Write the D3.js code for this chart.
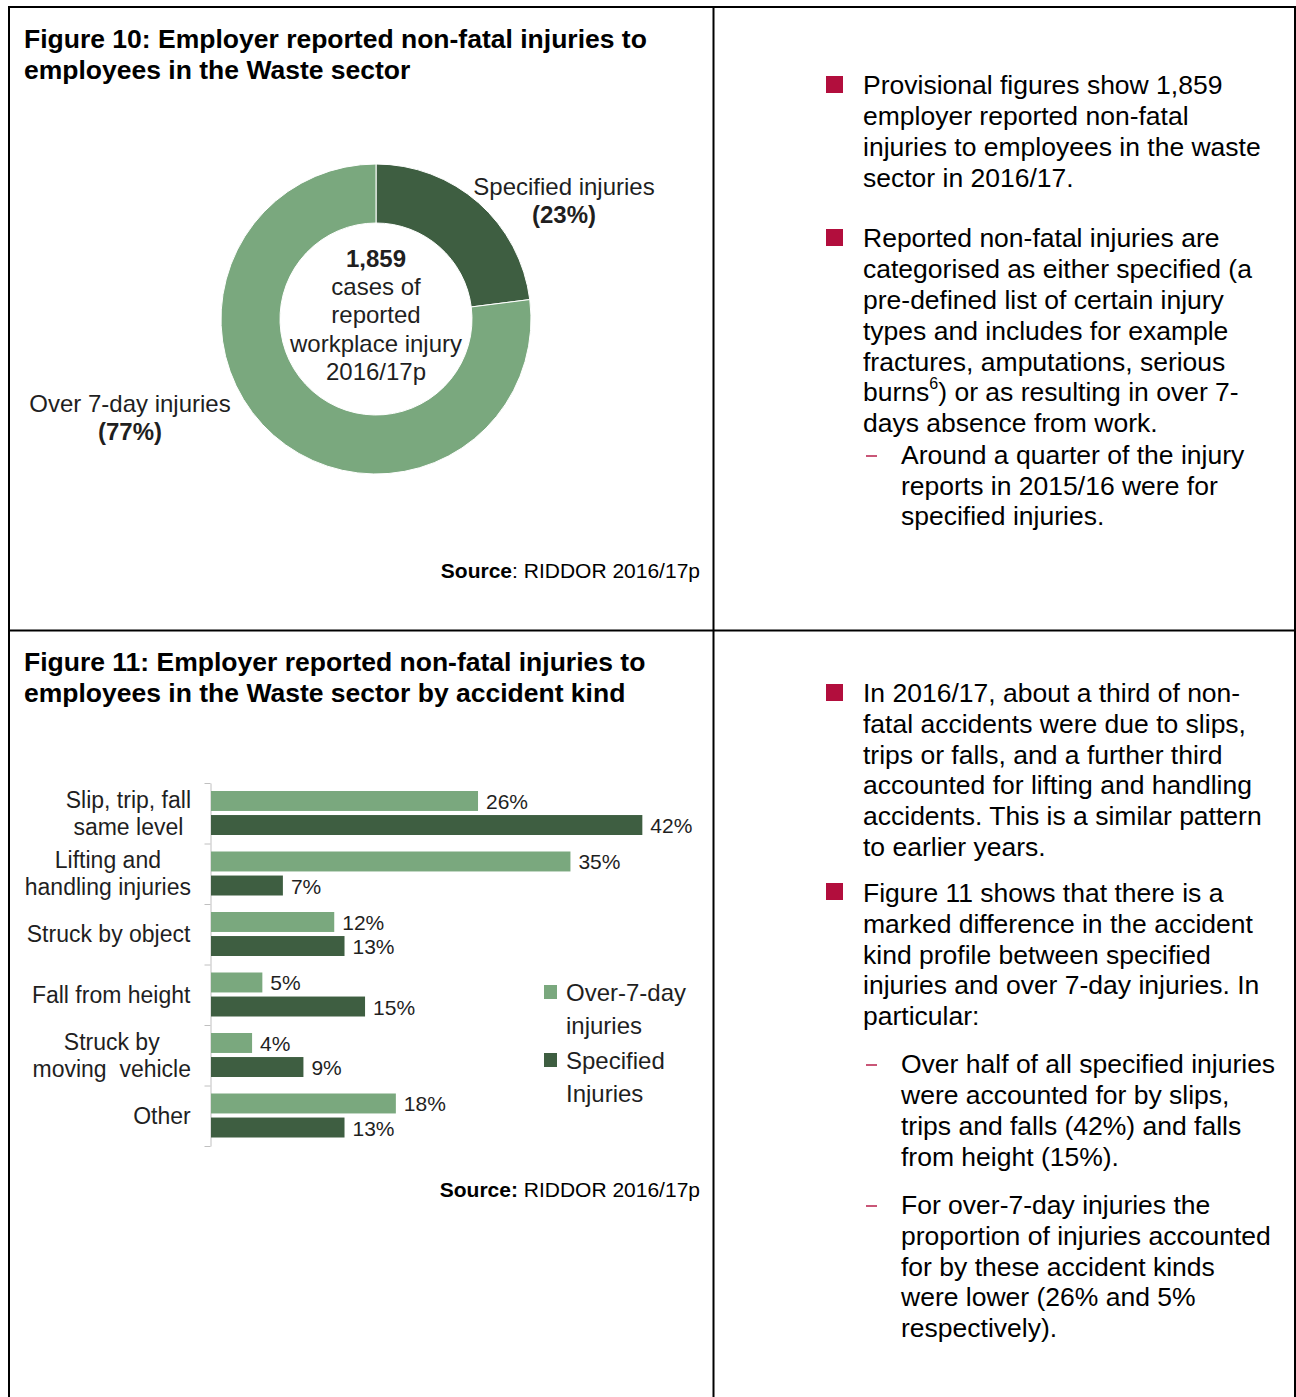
<!DOCTYPE html>
<html lang="en">
<head>
  <meta charset="UTF-8">
  <title>Waste sector non-fatal injuries</title>
  <script src="https://d3js.org/d3.v7.min.js"></script>
  <style>
    body {
      margin: 0;
      background-color: #ffffff;
    }
    svg {
      display: block;
      font-family: "Liberation Sans", Arial, sans-serif;
    }
    .body-text { font-size: 26.5px; fill: #000; }
    .title { font-size: 26.5px; font-weight: bold; fill: #000; }
    .chart-text { fill: #1f1f1f; white-space: pre; }
  </style>
</head>
<body>
  <div id="page"></div>

  <script>
    // Figure 10 data
    const donutLabels = ["Specified injuries", "Over 7-day injuries"];
    const donutValues = [23, 77];
    const totalCases = "1,859";
    const centreLines = ["cases of", "reported", "workplace injury", "2016/17p"];

    // Figure 11 data
    const categories = [
      ["Slip, trip, fall", "same level"],
      ["Lifting and", "handling injuries"],
      ["Struck by object"],
      ["Fall from height"],
      ["Struck by", "moving  vehicle"],
      ["Other"]
    ];
    const seriesNames = ["Over-7-day injuries", "Specified Injuries"];
    const over7Values = [26, 35, 12, 5, 4, 18];
    const specifiedValues = [42, 7, 13, 15, 9, 13];

    const lightGreen = "#7aa87e";
    const darkGreen = "#3e5e41";
    const bulletRed = "#b20e3d";

    // text of the right hand column, one entry per printed line
    const para1 = ["Provisional figures show 1,859", "employer reported non-fatal",
      "injuries to employees in the waste", "sector in 2016/17."];
    const para2 = ["Reported non-fatal injuries are", "categorised as either specified (a",
      "pre-defined list of certain injury", "types and includes for example",
      "fractures, amputations, serious", "burns", "days absence from work."];
    const para2sub = ["Around a quarter of the injury", "reports in 2015/16 were for", "specified injuries."];
    const para3 = ["In 2016/17, about a third of non-", "fatal accidents were due to slips,",
      "trips or falls, and a further third", "accounted for lifting and handling",
      "accidents. This is a similar pattern", "to earlier years."];
    const para4 = ["Figure 11 shows that there is a", "marked difference in the accident",
      "kind profile between specified", "injuries and over 7-day injuries. In", "particular:"];
    const para4subA = ["Over half of all specified injuries", "were accounted for by slips,",
      "trips and falls (42%) and falls", "from height (15%)."];
    const para4subB = ["For over-7-day injuries the", "proportion of injuries accounted",
      "for by these accident kinds", "were lower (26% and 5%", "respectively)."];

    const W = 1296, H = 1397;
    const svg = d3.select("#page").append("svg")
      .attr("width", W).attr("height", H);

    // ---------- table frame ----------
    const frame = svg.append("g").attr("stroke", "#000").attr("stroke-width", 2);
    frame.append("line").attr("x1", 9).attr("x2", 9).attr("y1", 6).attr("y2", H);
    frame.append("line").attr("x1", 713.5).attr("x2", 713.5).attr("y1", 6).attr("y2", H);
    frame.append("line").attr("x1", 1295).attr("x2", 1295).attr("y1", 6).attr("y2", H);
    frame.append("line").attr("x1", 8).attr("x2", 1296).attr("y1", 7).attr("y2", 7);
    frame.append("line").attr("x1", 8).attr("x2", 1296).attr("y1", 630.5).attr("y2", 630.5);

    // ---------- titles ----------
    function title(lines, y0) {
      const t = svg.append("text").attr("class", "title").attr("x", 24).attr("y", y0);
      lines.forEach((l, i) => t.append("tspan").attr("x", 24).attr("dy", i ? 31 : 0).text(l));
    }
    title(["Figure 10: Employer reported non-fatal injuries to", "employees in the Waste sector"], 48);
    title(["Figure 11: Employer reported non-fatal injuries to", "employees in the Waste sector by accident kind"], 671);

    function source(y, boldColon) {
      const t = svg.append("text").attr("x", 700).attr("y", y)
        .attr("text-anchor", "end").style("font-size", "21px");
      t.append("tspan").style("font-weight", "bold").text(boldColon ? "Source:" : "Source");
      t.append("tspan").text((boldColon ? "" : ":") + " RIDDOR 2016/17p");
    }
    source(578, false);
    source(1197, true);

    // ---------- Figure 10 donut ----------
    const cx = 376, cy = 319;
    const pie = d3.pie().sort(null).value(d => d);
    const arc = d3.arc().innerRadius(96).outerRadius(155);
    const donut = svg.append("g").attr("transform", `translate(${cx},${cy})`);
    donut.selectAll("path")
      .data(pie(donutValues))
      .enter().append("path")
      .attr("d", arc)
      .attr("fill", (d, i) => i === 0 ? darkGreen : lightGreen)
      .attr("stroke", "#ffffff")
      .attr("stroke-width", 1);

    const centre = donut.append("text").attr("class", "chart-text")
      .attr("text-anchor", "middle").style("font-size", "24px");
    centre.append("tspan").attr("x", 0).attr("y", -52).style("font-weight", "bold").text(totalCases);
    centre.selectAll("tspan.l").data(centreLines).enter().append("tspan")
      .attr("class", "l").attr("x", 0).attr("y", (d, i) => -24 + i * 28.3).text(d => d);

    const donutLabelPos = [[188, -124], [-246, 93]];
    donutLabels.forEach((lab, i) => {
      const t = donut.append("text").attr("class", "chart-text")
        .attr("text-anchor", "middle").style("font-size", "24px")
        .attr("transform", `translate(${donutLabelPos[i][0]},${donutLabelPos[i][1]})`);
      t.append("tspan").attr("x", 0).attr("y", 0).text(lab);
      t.append("tspan").attr("x", 0).attr("y", 28).style("font-weight", "bold")
        .text(`(${donutValues[i]}%)`);
    });

    // ---------- Figure 11 bars ----------
    const plotTop = 783, plotBottom = 1146;
    const y = d3.scaleBand().domain(d3.range(categories.length)).range([plotTop, plotBottom]);
    const ySub = d3.scaleBand().domain([0, 1]).range([8, 52]).paddingInner(0.17);
    const x = d3.scaleLinear().domain([0, 50]).range([211, 724.5]);

    const edge = d3.scaleLinear().domain([0, categories.length]).range([plotTop, plotBottom]);
    const axis = svg.append("g").attr("transform", "translate(210.5,0)")
      .call(d3.axisLeft(edge).tickValues(d3.range(categories.length + 1))
        .tickFormat("").tickSize(6).tickSizeOuter(0));
    axis.selectAll("path, line").attr("stroke", "#c0c0c0");

    const rows = categories.map((c, i) => [
      { cat: i, s: 0, v: over7Values[i] },
      { cat: i, s: 1, v: specifiedValues[i] }
    ]).flat();

    const bars = svg.append("g");
    bars.selectAll("rect").data(rows).enter().append("rect")
      .attr("x", x(0))
      .attr("y", d => y(d.cat) + ySub(d.s))
      .attr("width", d => x(d.v) - x(0))
      .attr("height", ySub.bandwidth())
      .attr("fill", d => d.s === 0 ? lightGreen : darkGreen);

    bars.selectAll("text").data(rows).enter().append("text")
      .attr("class", "chart-text")
      .attr("x", d => x(d.v) + 8)
      .attr("y", d => y(d.cat) + ySub(d.s) + ySub.bandwidth() / 2 + 8)
      .style("font-size", "21px")
      .text(d => d.v + "%");

    // category labels: lines centred on each other, block right aligned
    categories.forEach((lines, i) => {
      const g = svg.append("g");
      const t = g.append("text").attr("class", "chart-text")
        .attr("text-anchor", "middle").style("font-size", "23px");
      const yc = y(i) + y.bandwidth() / 2;
      lines.forEach((l, k) => {
        t.append("tspan").attr("x", 0)
          .attr("y", yc + 8 + (k - (lines.length - 1) / 2) * 27).text(l);
      });
      const bb = t.node().getBBox();
      g.attr("transform", `translate(${191 - (bb.x + bb.width)},0)`);
    });

    // legend
    const legendLines = [["Over-7-day", "injuries"], ["Specified", "Injuries"]];
    seriesNames.forEach((s, i) => {
      const ly = 985 + i * 68;
      svg.append("rect").attr("x", 544).attr("y", ly).attr("width", 13).attr("height", 14)
        .attr("fill", i === 0 ? lightGreen : darkGreen);
      const t = svg.append("text").attr("class", "chart-text").style("font-size", "24px");
      legendLines[i].forEach((l, k) => {
        t.append("tspan").attr("x", 566).attr("y", ly + 15.5 + k * 33).text(l);
      });
    });

    // ---------- right hand column ----------
    function bullet(yc) {
      svg.append("rect").attr("x", 826).attr("y", yc - 9).attr("width", 17).attr("height", 17)
        .attr("fill", bulletRed);
    }
    function dash(yc) {
      svg.append("line").attr("x1", 866).attr("x2", 877).attr("y1", yc + 1).attr("y2", yc + 1)
        .attr("stroke", bulletRed).attr("stroke-width", 1.4);
    }
    function para(lines, x0, yc0, step) {
      const t = svg.append("text").attr("class", "body-text");
      lines.forEach((l, i) => t.append("tspan").attr("x", x0).attr("y", yc0 + 9 + i * step).text(l));
      return t;
    }

    bullet(85);
    para(para1, 863, 85, 31);

    bullet(238);
    para(para2.slice(0, 5), 863, 238, 30.9);
    const burns = svg.append("text").attr("class", "body-text").attr("x", 863).attr("y", 392 + 9);
    burns.append("tspan").text(para2[5]);
    burns.append("tspan").attr("dy", -12).style("font-size", "16px").text("6");
    burns.append("tspan").attr("dy", 12).text(") or as resulting in over 7-");
    para([para2[6]], 863, 423, 31);
    dash(455);
    para(para2sub, 901, 455, 30.5);

    bullet(693);
    para(para3, 863, 693, 30.8);
    bullet(892);
    para(para4, 863, 893, 30.8);
    dash(1064);
    para(para4subA, 901, 1064, 31);
    dash(1205);
    para(para4subB, 901, 1205, 30.8);
  </script>
</body>
</html>
